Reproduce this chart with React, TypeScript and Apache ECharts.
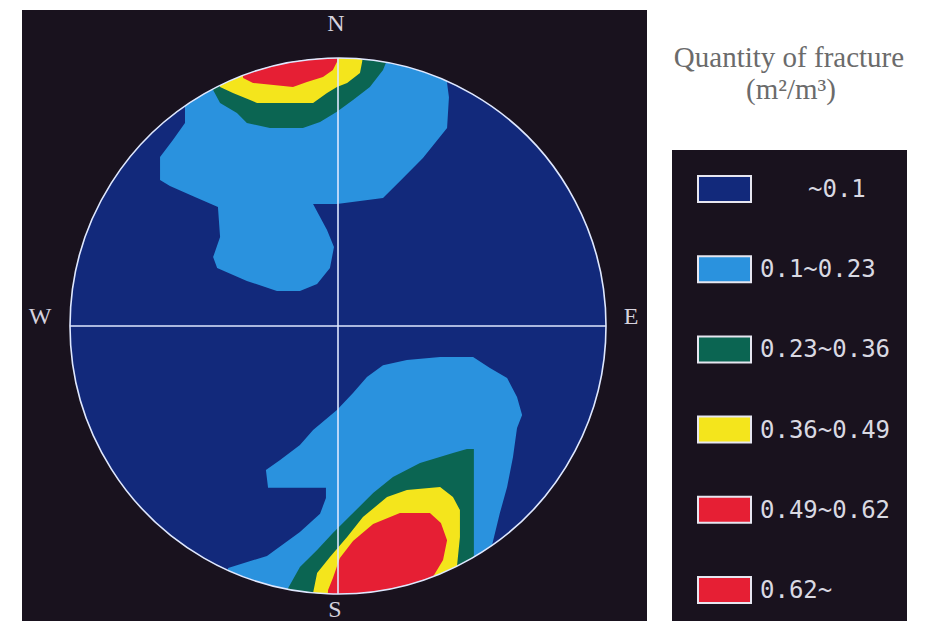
import React, { useEffect, useRef } from "react";
import * as echarts from "echarts";

// Legend classes (quantity of fracture, m2/m3)
const classLabels = ["~0.1", "0.1~0.23", "0.23~0.36", "0.36~0.49", "0.49~0.62", "0.62~"];
const classColors = ["#12297b", "#2a92de", "#0b6552", "#f4e51c", "#e61f34", "#e61f34"];
const compassLabels = ["N", "E", "S", "W"];
const titleLines = ["Quantity of fracture", "(m²/m³)"];

// Contour polygons in stereonet units (net radius = 100; x = east, y = north)
const upperBlue = [
  [-57.1, 106.7], [-57.1, 80.6], [-57.1, 75.7], [-61.6, 69.4], [-66.4, 63.1], [-66.4, 54.5],
  [-62.7, 52.2], [-53.4, 48.1], [-44.8, 44.4], [-44.0, 33.2], [-46.6, 25.7], [-45.1, 21.6],
  [-34.0, 16.8], [-22.8, 13.1], [-14.2, 13.1], [-7.8, 15.7], [-3.0, 21.6], [-1.5, 29.5],
  [-4.1, 35.8], [-7.5, 42.2], [-9.3, 45.5], [-0.4, 45.5], [16.8, 47.8], [24.3, 55.2],
  [31.7, 62.7], [40.7, 73.9], [41.4, 85.4], [40.7, 90.7], [42.5, 106.7],
];
const upperGreen = [
  [-49.6, 106.7], [-46.6, 88.1], [-44.0, 83.2], [-37.7, 79.5], [-34.0, 75.7], [-25.4, 73.9],
  [-13.1, 73.9], [-6.7, 76.1], [-0.4, 79.9], [5.6, 84.3], [11.9, 89.2], [16.8, 95.5],
  [18.3, 99.3], [20.1, 106.7],
];
const upperYellow = [
  [-45.9, 106.7], [-44.0, 89.2], [-39.2, 86.9], [-32.8, 84.3], [-30.2, 83.2], [-9.3, 83.2],
  [-4.1, 86.9], [-0.4, 89.2], [3.4, 90.7], [8.2, 94.4], [9.0, 98.5], [10.1, 106.7],
];
const upperRed = [
  [-36.6, 106.7], [-35.4, 92.5], [-31.7, 90.7], [-16.8, 89.2], [-11.6, 91.0], [-5.6, 92.9],
  [-1.9, 95.5], [-0.4, 98.5], [0.7, 106.7],
];
const lowerBlue = [
  [-42.2, -109.7], [-41.0, -90.3], [-26.5, -85.8], [-14.2, -76.9], [-6.7, -70.1], [-4.5, -64.2],
  [-4.5, -60.4], [-20.5, -60.4], [-26.1, -60.4], [-26.9, -53.7], [-21.6, -50.0], [-14.2, -44.4],
  [-9.3, -38.8], [-0.4, -31.3], [5.6, -25.0], [10.8, -19.0], [16.8, -14.6], [25.7, -12.7],
  [38.1, -11.6], [50.4, -11.6], [56.7, -15.7], [63.1, -19.4], [66.8, -26.5], [68.7, -33.2],
  [66.8, -38.1], [65.3, -48.9], [63.1, -60.1], [60.4, -69.8], [57.5, -81.7], [58.6, -109.7],
];
const lowerGreen = [
  [-19.8, -109.7], [-19.0, -98.5], [-14.2, -89.9], [-7.8, -83.6], [-1.9, -77.2], [5.6, -69.8],
  [13.1, -62.3], [20.5, -56.3], [30.6, -51.1], [42.9, -47.4], [48.1, -45.9], [50.7, -45.9],
  [50.7, -85.8], [52.2, -109.7],
];
const lowerYellow = [
  [-10.1, -109.7], [-9.3, -99.6], [-7.8, -92.2], [-3.0, -86.2], [3.4, -78.7], [9.3, -71.3],
  [18.3, -63.8], [25.7, -61.2], [38.1, -60.1], [42.9, -63.8], [45.5, -68.7], [45.5, -78.7],
  [44.4, -89.6], [44.8, -109.7],
];
const lowerRed = [
  [-4.5, -109.7], [-3.7, -98.5], [-1.9, -94.0], [0.7, -86.6], [5.6, -80.2], [13.1, -73.9],
  [23.1, -69.8], [34.3, -69.8], [38.4, -73.5], [40.7, -79.9], [39.2, -87.3], [35.4, -93.7],
  [35.4, -109.7],
];

// drawing order with class index
const regionShapes = [upperBlue, upperGreen, upperYellow, upperRed, lowerBlue, lowerGreen, lowerYellow, lowerRed];
const regionClasses = [1, 2, 3, 4, 1, 2, 3, 5];

export default function App() {
  const ref = useRef<HTMLDivElement>(null);

  useEffect(() => {
    if (!ref.current) return;
    const chart = echarts.init(ref.current, null, { renderer: "svg" });

    const lineColor = "#dfe8ff";
    const legendGraphics: any[] = [];
    classLabels.forEach((label, i) => {
      const cy = 189 + i * 80.2;
      legendGraphics.push({
        type: "rect",
        z: 10,
        shape: { x: 698, y: cy - 13, width: 53, height: 26 },
        style: { fill: classColors[i], stroke: "#e6e6f0", lineWidth: 2 },
      });
      legendGraphics.push({
        type: "text",
        z: 10,
        x: i === 0 ? 808 : 760,
        y: cy,
        style: {
          text: label,
          font: "24px 'DejaVu Sans Mono', monospace",
          fill: "#d9d9e2",
          align: "left",
          verticalAlign: "middle",
        },
      });
    });

    const option: any = {
      animation: false,
      backgroundColor: "#ffffff",
      grid: { left: 70, top: 58, width: 536, height: 536 },
      xAxis: { type: "value", min: -100, max: 100, show: false },
      yAxis: { type: "value", min: -100, max: 100, show: false },
      graphic: [
        { type: "rect", z: 0, shape: { x: 22, y: 10, width: 625, height: 611 }, style: { fill: "#19121e" } },
        { type: "rect", z: 0, shape: { x: 672, y: 150, width: 235, height: 471 }, style: { fill: "#19121e" } },
        {
          type: "text", z: 10, x: 789, y: 57,
          style: { text: titleLines[0], font: "29px 'Liberation Serif', serif", fill: "#6b6b6b", align: "center", verticalAlign: "middle" },
        },
        {
          type: "text", z: 10, x: 791, y: 89,
          style: { text: titleLines[1], font: "29px 'Liberation Serif', serif", fill: "#6b6b6b", align: "center", verticalAlign: "middle" },
        },
        ...legendGraphics,
      ],
      series: [
        {
          type: "custom",
          name: "net",
          silent: true,
          clip: false,
          z: 2,
          data: [[0, 0]],
          renderItem: (_p: any, api: any) => {
            const c = api.coord([0, 0]);
            const r = api.size([100, 0])[0];
            return { type: "circle", shape: { cx: c[0], cy: c[1], r }, style: { fill: classColors[0] } };
          },
        },
        {
          type: "custom",
          name: "contours",
          silent: true,
          clip: false,
          z: 3,
          data: regionClasses.map((cls, i) => [i, cls]),
          renderItem: (params: any, api: any) => {
            const pts = regionShapes[params.dataIndex].map((p) => api.coord(p));
            const c = api.coord([0, 0]);
            const r = api.size([100, 0])[0];
            return {
              type: "polygon",
              shape: { points: pts },
              style: { fill: classColors[regionClasses[params.dataIndex]] },
              clipPath: { type: "circle", shape: { cx: c[0], cy: c[1], r } },
            };
          },
        },
        {
          type: "custom",
          name: "frame",
          silent: true,
          clip: false,
          z: 4,
          data: [[0, 0]],
          renderItem: (_p: any, api: any) => {
            const c = api.coord([0, 0]);
            const r = api.size([100, 0])[0];
            const n = api.coord([0, 100]);
            const s = api.coord([0, -100]);
            const w = api.coord([-100, 0]);
            const e = api.coord([100, 0]);
            const font = "24px 'Liberation Serif', serif";
            const tc = "#d6d2de";
            return {
              type: "group",
              children: [
                { type: "line", shape: { x1: n[0], y1: n[1], x2: s[0], y2: s[1] }, style: { stroke: lineColor, lineWidth: 1.6 } },
                { type: "line", shape: { x1: w[0], y1: w[1], x2: e[0], y2: e[1] }, style: { stroke: lineColor, lineWidth: 1.6 } },
                { type: "circle", shape: { cx: c[0], cy: c[1], r }, style: { fill: "none", stroke: lineColor, lineWidth: 1.6 } },
                { type: "text", x: n[0] - 2, y: n[1] - 35, style: { text: compassLabels[0], font, fill: tc, align: "center", verticalAlign: "middle" } },
                { type: "text", x: e[0] + 25, y: e[1] - 10, style: { text: compassLabels[1], font, fill: tc, align: "center", verticalAlign: "middle" } },
                { type: "text", x: s[0] - 3, y: s[1] + 15, style: { text: compassLabels[2], font, fill: tc, align: "center", verticalAlign: "middle" } },
                { type: "text", x: w[0] - 30, y: w[1] - 10, style: { text: compassLabels[3], font, fill: tc, align: "center", verticalAlign: "middle" } },
              ],
            };
          },
        },
      ],
    };

    chart.setOption(option);
    return () => chart.dispose();
  }, []);

  return (
    <div
      ref={ref}
      style={{ position: "absolute", left: 0, top: 0, width: 929, height: 626 }}
    />
  );
}
